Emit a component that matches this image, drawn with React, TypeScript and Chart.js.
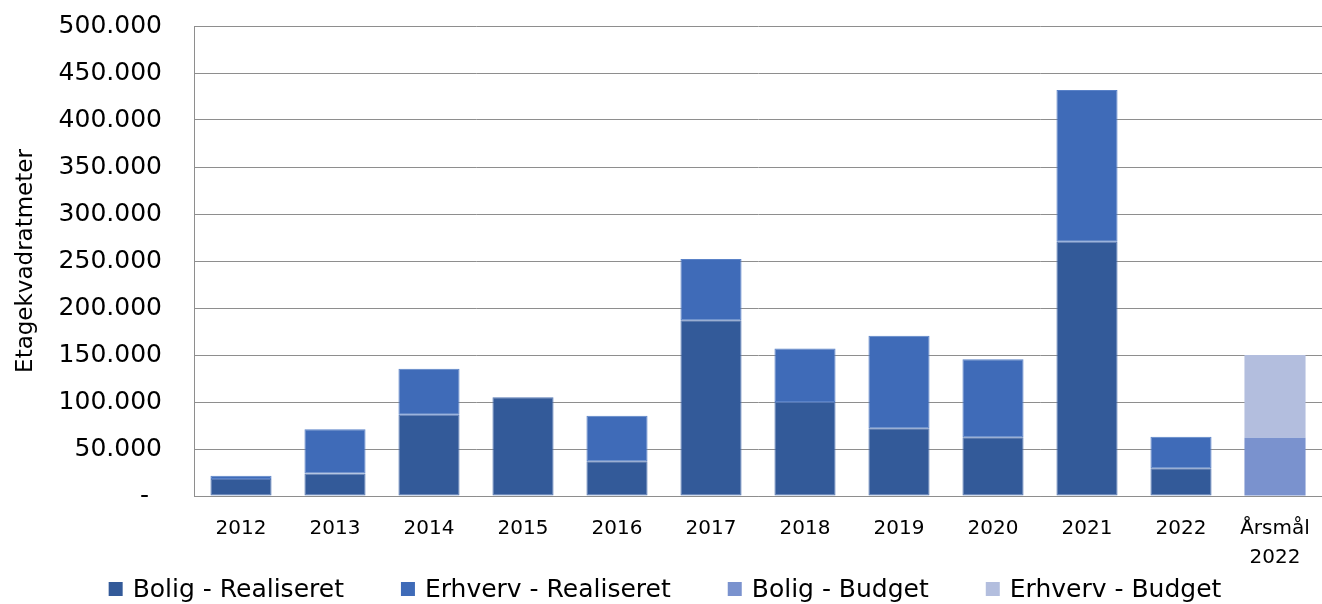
import React, { useEffect, useRef } from "react";
import { Chart, registerables } from "chart.js";

Chart.register(...registerables);

const categories: (string | string[])[] = [
  "2012", "2013", "2014", "2015", "2016", "2017", "2018", "2019", "2020", "2021", "2022", ["Årsmål", "2022"],
];
const boligRealiseret = [18000, 24000, 86500, 105000, 37000, 187000, 100000, 72000, 62500, 270500, 29500, null];
const erhvervRealiseret = [3500, 47000, 49000, 0, 48500, 65000, 57000, 98500, 83000, 161500, 33500, null];
const boligBudget = [null, null, null, null, null, null, null, null, null, null, null, 62000];
const erhvervBudget = [null, null, null, null, null, null, null, null, null, null, null, 88000];

const seriesNames = ["Bolig - Realiseret", "Erhverv - Realiseret", "Bolig - Budget", "Erhverv - Budget"];
const seriesColors = ["#335A99", "#3F6BB8", "#7A92CE", "#B3BEDE"];
const seriesBorders = ["#5577b3", "#5a82c8", "#7A92CE", "#B3BEDE"];

const yMax = 500000;
const yStep = 50000;
const yTitle = "Etagekvadratmeter";

const FONT = '"DejaVu Sans", sans-serif';

function fmt(v: number): string {
  if (v === 0) return "- \u2009";
  const s = Math.round(v).toString();
  return s.replace(/\B(?=(\d{3})+(?!\d))/g, ".");
}

const customLegend = {
  id: "customLegend",
  afterDraw(chart: any) {
    const ctx = chart.ctx;
    ctx.save();
    const fontSize = 25;
    ctx.font = `${fontSize}px ${FONT}`;
    ctx.textBaseline = "middle";
    ctx.textAlign = "left";
    const box = 14;
    const gap = 10;
    const spacing = 57;
    const items = chart.data.datasets.map((d: any) => ({
      label: d.label,
      color: d.backgroundColor,
      w: ctx.measureText(d.label).width,
    }));
    const total =
      items.reduce((a: number, it: any) => a + box + gap + it.w, 0) + spacing * (items.length - 1);
    let x = 665 - total / 2;
    const y = 589;
    items.forEach((it: any) => {
      ctx.fillStyle = it.color;
      ctx.fillRect(x, y - box / 2, box, box);
      x += box + gap;
      ctx.fillStyle = "#000000";
      ctx.fillText(it.label, x, y + 1);
      x += it.w + spacing;
    });
    ctx.restore();
  },
};

export default function App() {
  const ref = useRef<HTMLCanvasElement | null>(null);

  useEffect(() => {
    document.body.style.margin = "0";
    const canvas = ref.current;
    if (!canvas) return;
    const data = [boligRealiseret, erhvervRealiseret, boligBudget, erhvervBudget];
    const chart = new Chart(canvas, {
      type: "bar",
      data: {
        labels: categories,
        datasets: data.map((d, i) => ({
          label: seriesNames[i],
          data: d,
          backgroundColor: seriesColors[i],
          borderColor: seriesBorders[i],
          borderWidth: i < 2 ? 1 : 0,
          borderSkipped: false,
          categoryPercentage: 1,
          barPercentage: 0.65,
        })),
      },
      options: {
        responsive: false,
        animation: false,
        devicePixelRatio: 1,
        layout: { padding: { top: 26, right: 0, bottom: 38, left: 0 } },
        plugins: {
          legend: { display: false },
          tooltip: { enabled: false },
        },
        scales: {
          x: {
            stacked: true,
            grid: { display: false, drawTicks: false },
            border: { display: true, color: "#8e8e8e", width: 1 },
            ticks: {
              color: "#000000",
              font: { family: FONT, size: 20, lineHeight: 1.45 },
              padding: 18,
              maxRotation: 0,
              autoSkip: false,
            },
            afterFit: (scale: any) => {
              scale.paddingLeft = 0;
              scale.paddingRight = 0;
              scale.height = 70;
            },
          },
          y: {
            stacked: true,
            min: 0,
            max: yMax,
            grid: { color: "#8e8e8e", lineWidth: 1, drawTicks: false },
            border: { display: true, color: "#8e8e8e", width: 1 },
            ticks: {
              stepSize: yStep,
              color: "#000000",
              font: { family: FONT, size: 25 },
              padding: 32,
              callback: (v: any) => fmt(Number(v)),
            },
            title: {
              display: true,
              text: yTitle,
              color: "#000000",
              font: { family: FONT, size: 23, lineHeight: 1.2 },
              padding: { top: 12, bottom: 0 },
            },
            afterFit: (scale: any) => {
              scale.width = 194;
              scale.paddingTop = 0;
              scale.paddingBottom = 0;
            },
          },
        },
      },
      plugins: [customLegend],
    });
    return () => chart.destroy();
  }, []);

  return <canvas ref={ref} width={1322} height={604} style={{ display: "block" }} />;
}
